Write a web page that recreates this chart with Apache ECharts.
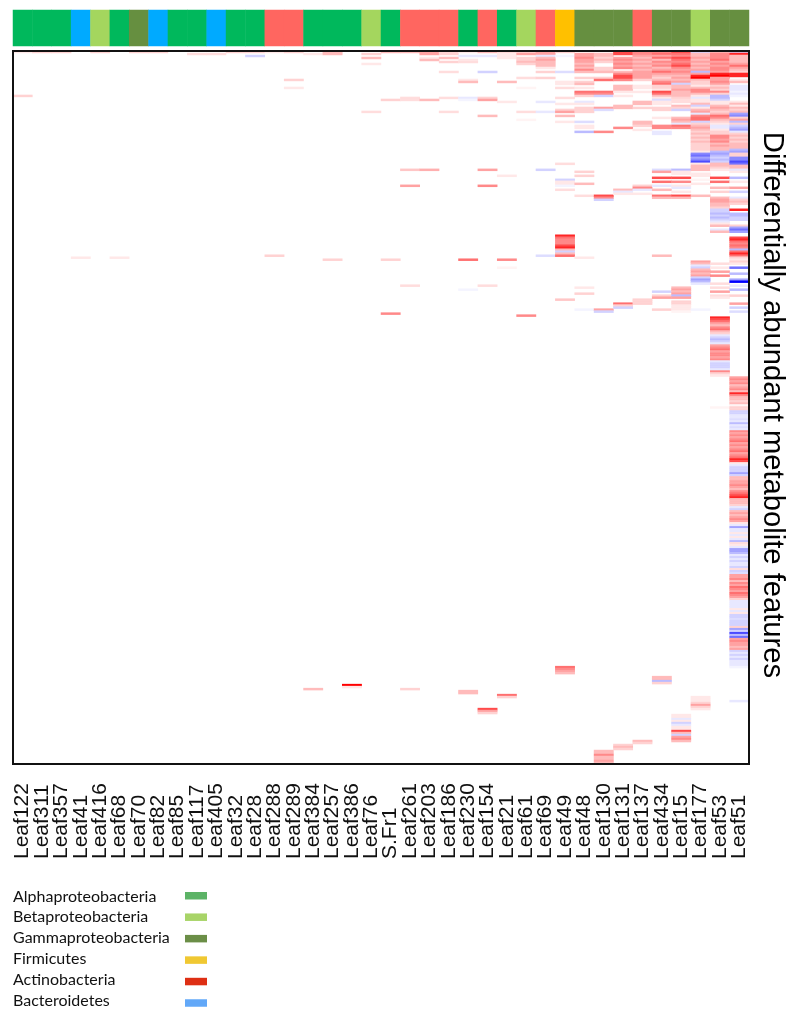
<!DOCTYPE html>
<html>
<head>
<meta charset="utf-8">
<style>html,body{margin:0;padding:0;background:#fff}#c{width:800px;height:1018px}#c canvas{filter:blur(0.4px)}</style>
<script src="https://cdn.jsdelivr.net/npm/echarts@6/dist/echarts.min.js"></script>
</head>
<body>
<div id="c"></div>
<script>
const strains = ["Leaf122","Leaf311","Leaf357","Leaf41","Leaf416","Leaf68","Leaf70","Leaf82","Leaf85","Leaf117","Leaf405","Leaf32","Leaf28","Leaf288","Leaf289","Leaf384","Leaf257","Leaf386","Leaf76","S.Fr1","Leaf261","Leaf203","Leaf186","Leaf230","Leaf154","Leaf21","Leaf61","Leaf69","Leaf49","Leaf48","Leaf130","Leaf131","Leaf137","Leaf434","Leaf15","Leaf177","Leaf53","Leaf51"];
const phylumNames = ["Alphaproteobacteria","Betaproteobacteria","Gammaproteobacteria","Firmicutes","Actinobacteria","Bacteroidetes"];
const strainPhylum = [0,0,0,5,1,0,2,5,0,0,5,0,0,4,4,0,0,0,1,0,4,4,4,0,4,0,1,4,3,2,2,2,4,2,2,1,2,2];
const barColors = ["#00B85C","#A4D65E","#668F40","#FFC000","#FF6660","#00AAFF"];
const legendColors = ["#5CB366","#A8D468","#6B8E47","#F0C832","#DE2F14","#62A8F8"];
const rowCount = 357;

// each entry: [first row, value, value, ...]; signed abundance change, -9 (blue) to 9 (red)
const col0=[[0,1],[22,2]];
const col1=[[0,2]];
const col2=[[0,2]];
const col3=[[103,1]];
const col4=[[0,2]];
const col5=[[103,1]];
const col6=[[0,2]];
const col7=[[0,2]];
const col8=[];
const col9=[[1,1.5]];
const col10=[[1,1.5]];
const col11=[[0,2]];
const col12=[[0,2],[2,-2]];
const col13=[[0,1],[102,2]];
const col14=[[0,2],[14,2],[18,1]];
const col15=[[1,1],[319,3]];
const col16=[[0,3,3],[104,2]];
const col17=[[317,9,1]];
const col18=[[1,2],[3,3],[6,1],[30,1.5]];
const col19=[[0,3],[24,2],[104,2],[131,5]];
const col20=[[0,3],[23,1.5,1.5],[59,2.5],[67,4],[117,1.5],[319,2]];
const col21=[[0,4,4],[3,1],[4,3],[24,3],[59,3.5]];
const col22=[[0,2,2],[3,3],[5,2],[10,1.5],[23,1.5],[30,1.5]];
const col23=[[0,1],[2,-1],[4,1,1.5],[14,1,3],[23,-1,-0.5],[104,6],[119,-0.5],[320,3,3]];
const col24=[[0,3],[2,-1],[10,-2],[23,2,4],[32,3],[59,4],[67,5],[117,1.5],[329,7,4,2]];
const col25=[[0,2,1,1,1],[15,3],[25,1],[62,1],[104,5],[108,0.5],[322,6,2]];
const col26=[[0,2,4],[3,2,2,3,2],[13,1.5],[18,0.5],[30,1.5],[34,0.5],[132,5]];
const col27=[[0,4,4,-1,3,4,3,3,3],[8,1],[10,2],[13,2],[25,-1],[30,-1],[59,-2],[102,-1.5]];
const col28=[[0,2],[2,-0.5],[10,-1.5],[15,1,1],[18,1.5],[23,1.5],[26,1],[29,2,4],[32,3],[35,1],[56,1.5],[64,-2,1,1,-0.5],[69,1.5],[92,8,6,5,5,5,7,8,3,-2,3,6],[124,2.5],[308,6,5,4,3]];
const col29=[[1,4,4,5,4,4,3,4,3,5,3],[13,2],[15,2,3],[18,1],[20,6,5,2],[25,-1,1],[28,2,2,2],[35,-1.5],[37,1,1],[40,-3],[60,2],[62,2],[66,3],[72,1.5],[103,1],[118,1],[121,2],[129,-0.5]];
const col30=[[1,3,3,2,3,2],[8,2,2,3],[13,2],[14,6],[20,6,5,-2],[28,4,-1.5],[40,5],[72,7,5,-2],[129,4,-2],[350,3,3,5,3,3,4,3]];
const col31=[[0,7,7],[3,4,5,4,5,4,5],[10,3,5,7,7,5],[17,3,3,3,1],[22,1],[27,3,3],[38,5],[69,3,-1,1],[126,6,2,-2],[347,2,3,2]];
const col32=[[0,5,5,4,3,4,3,4,3,4,3,4,4,4,4,2],[17,1,1],[20,1],[25,3,3],[28,2],[35,3,3,2],[39,1],[67,2,5,-1],[71,1],[124,2,2,2],[345,3,2]];
const col33=[[0,5,6,4,6,3,5,4,5,3,4,6,4,3,2,3,5,6,2,2,1,7,6,3,1,-1.5,1,1],[28,2,2],[33,1],[37,5,5],[40,-1,-1],[59,-1.5,4],[63,7],[65,6],[67,-1],[69,3],[72,6,3],[102,3],[120,-2],[122,2,4],[129,2],[313,3,3,-3,2]];
const col34=[[0,7,6,5,7,6,5,6,7,5,4,5,4,3,4,3,4,-2,3,3,4,3,3,3,2,1.5,1.5],[27,3,2],[29,-2],[33,3,4,3,-1,6,5],[59,-3,1,1],[63,7],[65,5],[67,1,-1],[70,1],[72,7,3],[118,3,4,3,4,-3,4],[125,2,2,1,1,1,0.5],[332,1,1,-1,1,-2,-1,1,1,7,3,-2,4,5,3]];
const col35=[[0,-2,3,3,4,3,4,3,4,3,4,-3,4,8,9,3,2,2,1,3,5,5,3,1,-1,1,1,3,-2,1,3,4,-1,5,6,6,-2,2,3,4,3,2,3,2,3,2,3,2,2,2,2,1,-5,-6,-4,-5,-7,1,3,3,3],[61,1,1],[64,0.5],[66,1],[72,3],[105,4,3,-1,-2,3,4,3,4,-2,-4,-3,-1],[129,-0.5],[323,1,1,1,2,4,2,1]];
const col36=[[0,3,5,5,5,6,4,5,4,5,5,4,8,9,4,4,5,4,2,3,2,5,2,-3,-3,-2,1,1,3,4,3,2,3,6,5,3,2,1,-1,-1,1,2,2,5,5,4,5,3,4,3,3,-3,-4,-3,-2,-3,-2,3,3,2,1],[63,7],[65,6],[68,3],[70,2],[73,3,4,4,3,3,2],[79,-2,-2,-3,-2,-3,-2,-1,1,3],[89,-1,3],[106,1.5],[108,1],[110,4],[112,5],[116,1.5],[118,1.5],[120,4],[122,1.5,1],[133,8,7,6,4,3,5,6,3,2,-1,-2,-3,-2,-1,4,5,6,4,5,5,4,5,-1,-2,-2,-2,-1,5,2,1],[178,0.5]];
const col37=[[0,-2,8,3,3,3,3,4,6,4,3,2,8,8],[14,1,3],[17,-1,-1,-1,-0.5,-1,-0.5],[25,1,3,1,3,2,3,-4,-5,2,4,-3,2,-2,-3,-4,-1,2,3,2,3,2,3,3,3,-3,-4,2,2,-5,-5,-7,-6,3,3,-1,1],[63,-3],[65,1],[68,4],[70,-2],[73,-1,2,3,2],[79,8],[81,-3,-3,-2,-2],[87,2,-4,-6,-4],[93,7,8,6,5,6,5,-3,6,8,6,2,1,2,1],[108,-6],[111,-3],[114,-4,-9],[117,-1],[119,-3],[122,2],[126,4],[128,-2],[130,-1.5],[163,4,5,4,5,3,4,5,3,8,5,3,3,2,3,0.5,2,2,-2,-2,-1,-1,-1.5,-1,-3,-1,-1.5,-1,5,4,5,4,5,6,4,5,4,5,6,4,5,6,8,7,1,-1,-2,-2,-2,-4,-2,3,3,4,4,5,4,3,5,6,7,8,3,3,3,2,-1,-2,3,4,3,4,5,4,1,-1,-4,-1,-1,1,-1,1,-1,-3,1.5,1,-1,-4,-4,-3,-1,-2,-1,-2,-1,-1,-2,1.5,-2,-1.5,4,4,5,3,5,4,6,5,4,6,5,4,2,-1,-1,-1,-1,1,-1,1,-2,-2,-1.5,-2,-2,-2,2,-4,-2,-7,-3,-6,4,5,4,4,3,4,-2,-1,-2,-1,-2,-1,-1,-1,-0.5],[325,-1]];

const columns = [col0,col1,col2,col3,col4,col5,col6,col7,col8,col9,col10,col11,col12,col13,col14,col15,col16,col17,col18,col19,col20,col21,col22,col23,col24,col25,col26,col27,col28,col29,col30,col31,col32,col33,col34,col35,col36,col37];

const cells = [];
columns.forEach((segs, c) => segs.forEach(seg => seg.slice(1).forEach((v, i) => cells.push([c, seg[0] + i, v]))));
const rows = Array.from({length: rowCount}, (_, i) => String(i));
const barCells = strainPhylum.map((p, c) => [c, 0, p]);

const graphics = [{
  type: 'text', x: 758, y: 405, rotation: -Math.PI / 2,
  style: { text: 'Differentially abundant metabolite features', font: '29.2px "Liberation Sans"', fill: '#000', align: 'center', verticalAlign: 'bottom' }
}];
phylumNames.forEach((name, i) => {
  graphics.push({ type: 'text', x: 13, y: 896.5 + i * 20.8, style: { text: name, font: '16px Lato', fill: '#111', align: 'left', verticalAlign: 'middle' } });
  graphics.push({ type: 'rect', shape: { x: 185, y: 892 + i * 21.45, width: 22, height: 7.5 }, style: { fill: legendColors[i] } });
});

const chart = echarts.init(document.getElementById('c'), null, { renderer: 'canvas' });
chart.setOption({
  animation: false,
  backgroundColor: '#fff',
  grid: [
    { left: 13, top: 51, width: 736, height: 713, show: true, z: 10, backgroundColor: 'transparent', borderColor: '#111', borderWidth: 2 },
    { left: 13, top: 10, width: 736, height: 36 }
  ],
  xAxis: [
    { type: 'category', gridIndex: 0, data: strains, axisLine: { show: false }, axisTick: { show: false }, splitLine: { show: false },
      axisLabel: { interval: 0, rotate: 90, align: 'left', verticalAlign: 'middle', margin: 95, fontFamily: 'Liberation Sans', fontSize: 21, color: '#111' } },
    { type: 'category', gridIndex: 1, data: strains, show: false }
  ],
  yAxis: [
    { type: 'category', gridIndex: 0, data: rows, inverse: true, show: false },
    { type: 'category', gridIndex: 1, data: ['phylum'], show: false }
  ],
  visualMap: [
    { type: 'continuous', seriesIndex: 0, show: false, min: -9, max: 9, inRange: { color: ['#0000ff', '#7070ff', '#bbbbff', '#ffffff', '#ffbbbb', '#ff7070', '#ff0000'] } },
    { type: 'piecewise', seriesIndex: 1, show: false, pieces: barColors.map((color, i) => ({ value: i, color })) }
  ],
  series: [
    { type: 'heatmap', xAxisIndex: 0, yAxisIndex: 0, data: cells, progressive: 0, emphasis: { disabled: true } },
    { type: 'heatmap', xAxisIndex: 1, yAxisIndex: 1, data: barCells, progressive: 0, emphasis: { disabled: true } }
  ],
  graphic: graphics
});
</script>
</body>
</html>
